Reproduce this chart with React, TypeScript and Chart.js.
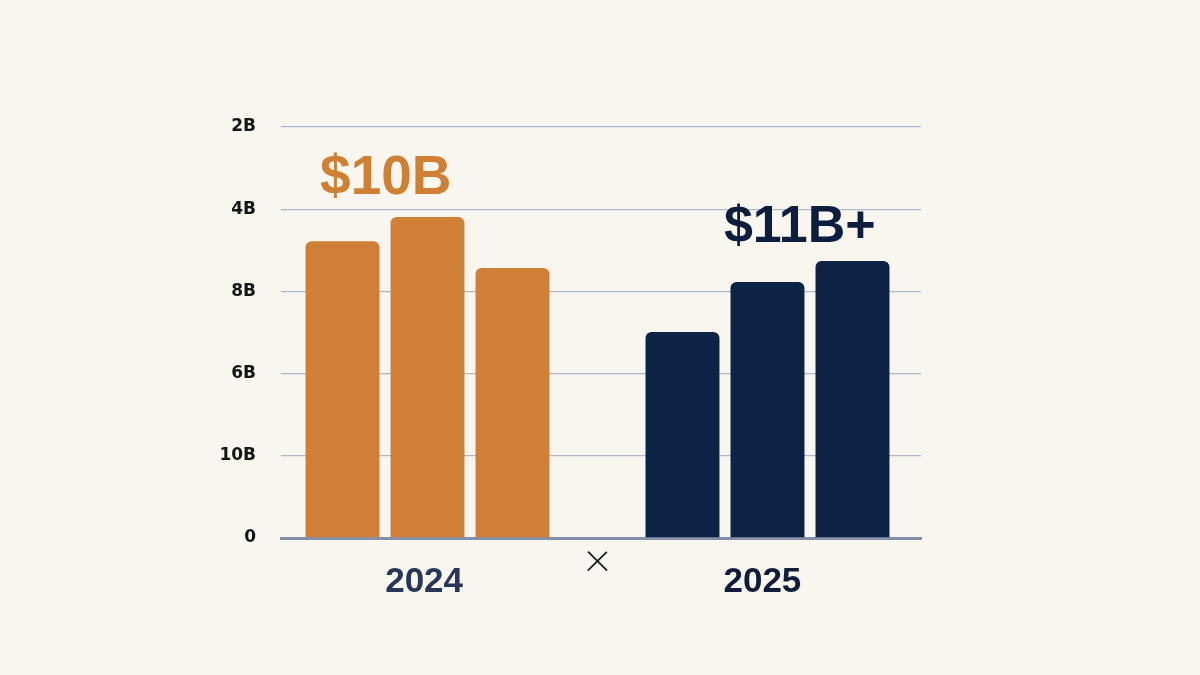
import React, { useEffect, useRef } from "react";
import { Chart, registerables } from "chart.js";

Chart.register(...registerables);

// bar slots on the x axis (slot 3 is the empty gap between the years)
const slots2024 = [0, 1, 2];
const slots2025 = [4, 5, 6];
const values2024 = [7.22, 7.81, 6.57];
const values2025 = [5.01, 6.23, 6.74];

// x tick labels and where they sit
const xTickValues = [0.96, 3, 4.94];
const xTickLabels = ["2024", "×", "2025"];
const xTickColors = ["#273758", "#1a1a1a", "#101c39"];

// y tick labels, bottom to top (as printed on the original)
const yTickLabels = ["0", "10B", "6B", "8B", "4B", "2B"];

// big headline labels
const annotationTexts = ["$10B", "$11B+"];
const annotationX = [0.51, 5.38];
const annotationY = [8.37, 7.2];
const annotationColors = ["#d08033", "#0d1d3d"];
const annotationSizes = [55, 52];

const ORANGE = "#cf8036";
const NAVY = "#0c2346";

const annotationPlugin = {
  id: "headlines",
  afterDatasetsDraw(chart: any) {
    const { ctx, scales } = chart;
    ctx.save();
    ctx.textAlign = "center";
    ctx.textBaseline = "alphabetic";
    annotationTexts.forEach((text, i) => {
      ctx.font = `bold ${annotationSizes[i]}px "Liberation Sans", Arial, sans-serif`;
      ctx.fillStyle = annotationColors[i];
      ctx.fillText(
        text,
        scales.x.getPixelForValue(annotationX[i]),
        scales.y.getPixelForValue(annotationY[i])
      );
    });
    ctx.restore();
  },
};

const App: React.FC = () => {
  const canvasRef = useRef<HTMLCanvasElement>(null);
  const chartRef = useRef<Chart | null>(null);

  useEffect(() => {
    const ctx = canvasRef.current?.getContext("2d");
    if (!ctx) return;
    if (chartRef.current) chartRef.current.destroy();

    const radius = { topLeft: 6, topRight: 6, bottomLeft: 0, bottomRight: 0 };

    chartRef.current = new Chart(ctx, {
      type: "bar",
      data: {
        datasets: [
          {
            label: "2024",
            data: slots2024.map((x, i) => ({ x, y: values2024[i] })),
            backgroundColor: ORANGE,
            borderRadius: radius,
            borderSkipped: "start",
            grouped: false,
            barPercentage: 0.87,
            categoryPercentage: 1,
          },
          {
            label: "2025",
            data: slots2025.map((x, i) => ({ x, y: values2025[i] })),
            backgroundColor: NAVY,
            borderRadius: radius,
            borderSkipped: "start",
            grouped: false,
            barPercentage: 0.87,
            categoryPercentage: 1,
          },
        ] as any,
      },
      options: {
        animation: false,
        responsive: true,
        maintainAspectRatio: false,
        layout: { padding: { top: 127, right: 279, bottom: 0, left: 0 } },
        plugins: {
          legend: { display: false },
          tooltip: { enabled: false },
        },
        scales: {
          x: {
            type: "linear",
            offset: false,
            bounds: "data",
            min: -0.7235,
            max: 6.806,
            afterBuildTicks: (scale: any) => {
              scale.ticks = xTickValues.map((value) => ({ value }));
            },
            afterFit: (scale: any) => {
              scale.height = 137;
            },
            grid: { display: false, drawTicks: false },
            border: { display: true, color: "#8390a9", width: 3 },
            ticks: {
              autoSkip: false,
              maxRotation: 0,
              padding: 12,
              callback: (value: any, index: number) => xTickLabels[index],
              color: (c: any) => xTickColors[c.index] ?? "#1a1a1a",
              font: (c: any) =>
                c.index === 1
                  ? { family: "Lato, 'Open Sans', sans-serif", size: 48, weight: 300, lineHeight: "24px" }
                  : { family: "'Liberation Sans', Arial, sans-serif", size: 35, weight: "bold", lineHeight: "64px" },
            },
          },
          y: {
            min: 0,
            max: 10,
            afterFit: (scale: any) => {
              scale.width = 281;
            },
            grid: {
              color: "#adb8cb",
              lineWidth: 1.3,
              drawTicks: false,
            },
            border: { display: false },
            ticks: {
              stepSize: 2,
              padding: 25,
              color: "#151515",
              font: { family: "'DejaVu Sans', sans-serif", size: 17, weight: "bold" },
              callback: (value: any) => yTickLabels[Math.round(Number(value) / 2)],
            },
          },
        },
      },
      plugins: [annotationPlugin],
    });

    return () => {
      if (chartRef.current) {
        chartRef.current.destroy();
        chartRef.current = null;
      }
    };
  }, []);

  return (
    <div
      style={{
        position: "fixed",
        left: 0,
        top: 0,
        width: 1200,
        height: 675,
        background: "#f9f6ef",
      }}
    >
      <canvas ref={canvasRef} />
    </div>
  );
};

export default App;
